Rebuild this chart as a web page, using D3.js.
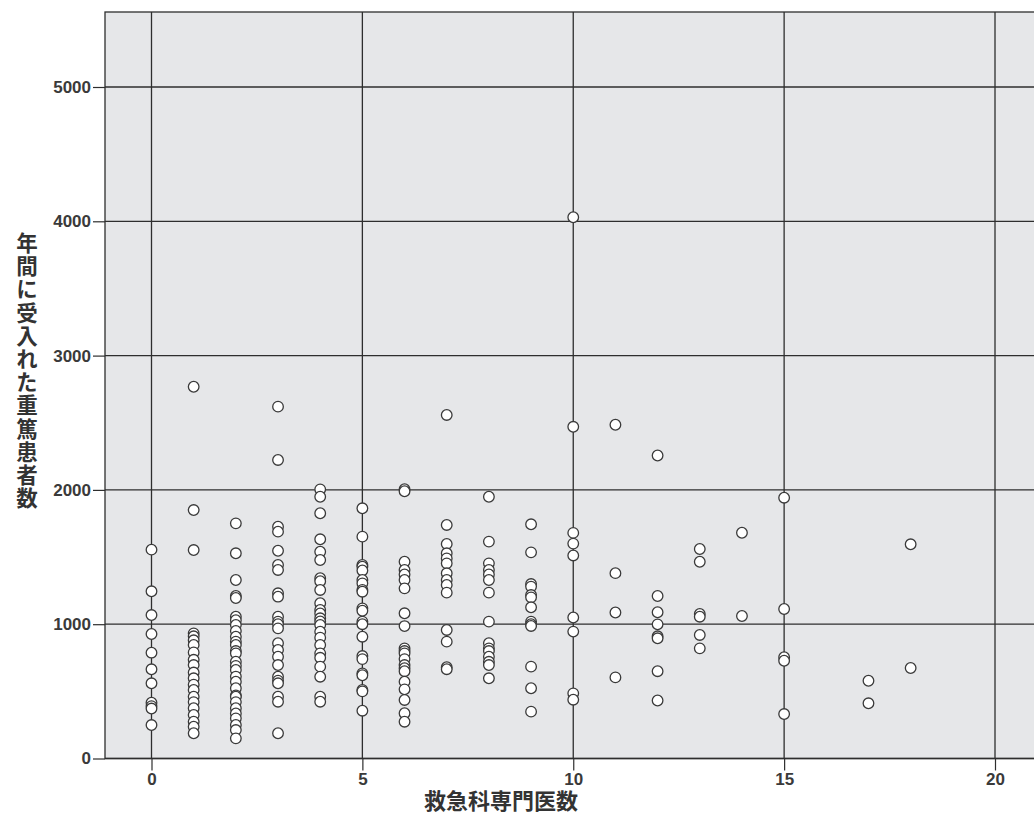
<!DOCTYPE html>
<html><head><meta charset="utf-8">
<script src="https://cdn.jsdelivr.net/npm/d3@7"></script>
<style>
html,body{margin:0;padding:0;background:#fff;}
svg{display:block;}
.tick text{font-family:"Liberation Sans","Arial",sans-serif;font-weight:bold;font-size:17px;fill:#3a3a3a;}
</style></head>
<body>
<svg id="chart" width="1034" height="834"></svg>
<script>
// ---- data (x = 救急科専門医数, y = 年間に受入れた重篤患者数) ----
const doctorCounts = [0,1,2,3,4,5,6,7,8,9,10,11,12,13,14,15,17,18];
const p0  = [1555,1245,1068,927,788,664,560,415,390,372,249];
const p1  = [2768,1850,1552,932,910,880,845,790,735,696,640,597,550,510,460,420,374,324,274,237,188];
const p2  = [1751,1528,1329,1210,1195,1056,1030,994,950,907,870,845,800,783,721,690,659,610,572,523,470,460,420,374,335,299,250,212,150];
const p3  = [2620,2223,1726,1689,1547,1441,1404,1230,1205,1056,1019,1000,969,858,808,758,696,609,580,560,460,423,188];
const p4  = [2004,1949,1826,1632,1540,1478,1342,1320,1255,1156,1106,1080,1044,1020,994,944,900,845,783,750,684,609,460,423];
const p5  = [1863,1652,1441,1428,1400,1329,1304,1255,1242,1118,1100,1019,1000,907,763,740,634,620,510,500,356];
const p6  = [2005,1990,1465,1404,1370,1329,1267,1081,986,820,800,783,740,696,672,650,572,515,436,337,274];
const p7  = [2558,1739,1597,1528,1490,1453,1379,1329,1292,1235,957,870,680,665];
const p8  = [1949,1615,1453,1404,1370,1329,1235,1019,858,820,800,758,720,696,597];
const p9  = [1744,1535,1299,1280,1217,1200,1126,1019,1000,987,684,523,349];
const p10 = [4030,2470,1680,1600,1512,1050,945,485,438];
const p11 = [2485,1380,1087,604];
const p12 = [2256,1210,1089,999,910,895,650,432];
const p13 = [1560,1465,1076,1056,920,820];
const p14 = [1681,1061];
const p15 = [1942,1113,754,728,331];
const p17 = [579,411];
const p18 = [1595,674];
const patientLists = [p0,p1,p2,p3,p4,p5,p6,p7,p8,p9,p10,p11,p12,p13,p14,p15,p17,p18];
const xTicks = [0,5,10,15,20];
const yTicks = [0,1000,2000,3000,4000,5000];
const xTitle = "救急科専門医数";
const yTitle = "年間に受入れた重篤患者数";

const points = [];
doctorCounts.forEach((c,i)=>patientLists[i].forEach(v=>points.push({x:c,y:v})));

// ---- layout ----
const pLeft=105, pTop=12, pRight=1045, pBottom=758.5;
const x = d3.scaleLinear().domain([0,20]).range([151.5,995]);
const y = d3.scaleLinear().domain([0,5000]).range([758.5,87]);

const svg = d3.select("#chart");
const ink = "#2e2e2e";

svg.append("rect").attr("x",pLeft).attr("y",pTop).attr("width",pRight-pLeft).attr("height",pBottom-pTop)
  .attr("fill","#e6e7e9").attr("stroke",ink).attr("stroke-width",1.3);

// gridlines
svg.append("g").selectAll("line").data(xTicks).join("line")
  .attr("x1",d=>x(d)).attr("x2",d=>x(d)).attr("y1",pTop).attr("y2",pBottom)
  .attr("stroke",ink).attr("stroke-width",1.3);
svg.append("g").selectAll("line").data(yTicks).join("line")
  .attr("x1",pLeft).attr("x2",pRight).attr("y1",d=>y(d)).attr("y2",d=>y(d))
  .attr("stroke",ink).attr("stroke-width",1.3);

// axes
const ax = svg.append("g").attr("transform",`translate(0,${pBottom})`)
  .call(d3.axisBottom(x).tickValues(xTicks).tickSize(12).tickPadding(2).tickFormat(d3.format("d")));
ax.select(".domain").remove();
ax.selectAll(".tick line").attr("stroke",ink).attr("stroke-width",1.2);

const ay = svg.append("g").attr("transform",`translate(${pLeft},0)`)
  .call(d3.axisLeft(y).tickValues(yTicks).tickSize(12).tickPadding(2).tickFormat(d3.format("d")));
ay.select(".domain").remove();
ay.selectAll(".tick line").attr("stroke",ink).attr("stroke-width",1.2);

// points
svg.append("g").selectAll("circle").data(points).join("circle")
  .attr("cx",d=>x(d.x)).attr("cy",d=>y(d.y)).attr("r",5.3)
  .attr("fill","#fff").attr("stroke","#3a3a3a").attr("stroke-width",1.3);

// titles
svg.append("text").attr("x",501).attr("y",808.5).attr("text-anchor","middle")
  .attr("font-family","'Liberation Sans','Noto Sans CJK JP',sans-serif").attr("font-weight","bold")
  .attr("font-size",22).attr("fill","#333").text(xTitle);

// vertical y title: one upright glyph per text, stacked
svg.append("g").selectAll("text").data(Array.from(yTitle)).join("text")
  .attr("x",27).attr("y",(d,i)=>232+i*23.2).attr("text-anchor","start")
  .attr("writing-mode","vertical-rl").style("text-orientation","upright")
  .attr("font-family","'Noto Sans CJK JP',sans-serif").attr("font-weight","bold")
  .attr("font-size",21.5).attr("fill","#333").text(d=>d);
</script>
</body></html>
